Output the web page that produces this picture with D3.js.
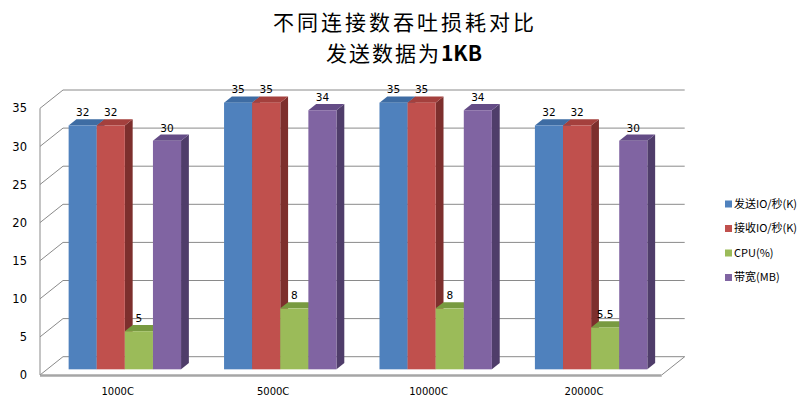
<!DOCTYPE html>
<html>
<head>
<meta charset="utf-8">
<script src="https://cdn.jsdelivr.net/npm/d3@7"></script>
<style>
  body { margin: 0; background: #fff; }
  svg { display: block; }
</style>
</head>
<body>
<div id="chart"></div>
<script>
// chart values
const categories = ["1000C", "5000C", "10000C", "20000C"];
const seriesNames = ["发送IO/秒(K)", "接收IO/秒(K)", "CPU(%)", "带宽(MB)"];
const sendIO = [32, 35, 35, 32];
const recvIO = [32, 35, 35, 32];
const cpuUsage = [5, 8, 8, 5.5];
const bandwidth = [30, 34, 34, 30];
const yTicks = [0, 5, 10, 15, 20, 25, 30, 35];

const seriesValues = [sendIO, recvIO, cpuUsage, bandwidth];
const colors = [
  { front: "#4f81bd", top: "#3e6ca3", side: "#2f527e" },
  { front: "#c0504d", top: "#a4403d", side: "#7d2f2d" },
  { front: "#9bbb59", top: "#789a40", side: "#5f7a32" },
  { front: "#8064a2", top: "#644c86", side: "#4f3d6a" }
];

const width = 809, height = 404;
// front plane of the floor and depth of the box
const plotLeft = 40, plotRight = 661.7, plotBottom = 375, plotTop = 108.3;
const depthX = 23, depthY = -18.3;
const barStart = 0.31, barDepth = 0.34;

const svg = d3.select("#chart").append("svg")
  .attr("width", width)
  .attr("height", height);

const y = d3.scaleLinear().domain([0, 35]).range([plotBottom, plotTop]);
const x0 = d3.scaleBand().domain(categories).range([plotLeft, plotRight]).padding(0);
const x1 = d3.scaleBand().domain(seriesNames).range([0, x0.bandwidth()])
  .paddingInner(0).paddingOuter(0.765);

// back wall gridlines + left wall diagonals
const grid = svg.append("g").attr("stroke", "#8a8a8a").attr("stroke-width", 1).attr("fill", "none");
yTicks.forEach(t => {
  if (t === 0) return;
  grid.append("path")
    .attr("d", "M" + plotLeft + "," + y(t) + "L" + (plotLeft + depthX) + "," + (y(t) + depthY) +
      "L" + (plotRight + depthX) + "," + (y(t) + depthY));
});
// floor
svg.append("path")
  .attr("d", "M" + plotLeft + "," + plotBottom + "L" + (plotLeft + depthX) + "," + (plotBottom + depthY) +
    "L" + (plotRight + depthX) + "," + (plotBottom + depthY) + "L" + plotRight + "," + plotBottom)
  .attr("fill", "none").attr("stroke", "#8a8a8a");
svg.append("line")
  .attr("x1", plotLeft).attr("x2", plotRight).attr("y1", plotBottom + 0.5).attr("y2", plotBottom + 0.5)
  .attr("stroke", "#a6a6a6").attr("stroke-width", 2.5);
// front vertical axis line
svg.append("line")
  .attr("x1", plotLeft).attr("x2", plotLeft).attr("y1", plotBottom).attr("y2", plotTop)
  .attr("stroke", "#8a8a8a");

// bars
const bx = depthX * barStart, by = depthY * barStart;
const dx = depthX * barDepth, dy = depthY * barDepth;
const bw = x1.bandwidth();

categories.forEach((cat, ci) => {
  const g = svg.append("g");
  seriesNames.forEach((s, si) => {
    const v = seriesValues[si][ci];
    const xl = x0(cat) + x1(s) + bx;
    const xr = xl + bw;
    const yb = y(0) + by;
    const yt = y(v) + by;
    const c = colors[si];
    // side
    g.append("path")
      .attr("d", `M${xr},${yt}L${xr + dx},${yt + dy}L${xr + dx},${yb + dy}L${xr},${yb}Z`)
      .attr("fill", c.side);
    // top
    g.append("path")
      .attr("d", `M${xl},${yt}L${xl + dx},${yt + dy}L${xr + dx},${yt + dy}L${xr},${yt}Z`)
      .attr("fill", c.top);
    // front
    g.append("rect")
      .attr("x", xl).attr("y", yt)
      .attr("width", bw).attr("height", yb - yt)
      .attr("fill", c.front);
  });
  // value labels
  seriesNames.forEach((s, si) => {
    const v = seriesValues[si][ci];
    const xl = x0(cat) + x1(s) + bx;
    g.append("text")
      .attr("x", xl + bw / 2)
      .attr("y", y(v) + by + dy - 3)
      .attr("text-anchor", "middle")
      .attr("font-family", "DejaVu Sans, Verdana, sans-serif")
      .attr("font-size", 10.5)
      .attr("fill", "#000")
      .text(v);
  });
});

// axes (labels only)
const yAxis = svg.append("g")
  .attr("transform", "translate(" + plotLeft + ",0)")
  .call(d3.axisLeft(y).tickValues(yTicks).tickSize(0).tickPadding(13));
yAxis.select(".domain").remove();
yAxis.selectAll("text")
  .attr("font-family", "DejaVu Sans, Verdana, sans-serif")
  .attr("font-size", 11.5).attr("fill", "#000");

const xAxis = svg.append("g")
  .attr("transform", "translate(0," + plotBottom + ")")
  .call(d3.axisBottom(x0).tickSize(0).tickPadding(13));
xAxis.select(".domain").remove();
xAxis.selectAll("text")
  .attr("font-family", "DejaVu Sans, Verdana, sans-serif")
  .attr("font-size", 10).attr("fill", "#000");

// title
const title = svg.append("g")
  .attr("text-anchor", "middle")
  .attr("font-family", "Noto Sans CJK SC, sans-serif")
  .attr("font-size", 21)
  .attr("fill", "#000");
title.append("text").attr("x", 405).attr("y", 29.5)
  .attr("letter-spacing", 3)
  .text("不同连接数吞吐损耗对比");
const line2 = title.append("text").attr("x", 404).attr("y", 61).attr("letter-spacing", 2);
line2.append("tspan").text("发送数据为");
line2.append("tspan").attr("font-weight", "bold").attr("letter-spacing", 0).text("1KB");

// legend
const legend = svg.append("g");
const legendY = [204, 228.5, 253, 277.5];
seriesNames.forEach((s, i) => {
  legend.append("rect")
    .attr("x", 725).attr("y", legendY[i] - 3.5)
    .attr("width", 7).attr("height", 7)
    .attr("fill", colors[i].front);
  legend.append("text")
    .attr("x", 734).attr("y", legendY[i])
    .attr("dy", "0.36em")
    .attr("font-family", "Noto Sans CJK SC, sans-serif")
    .attr("font-size", 11)
    .attr("fill", "#000")
    .text(s);
});
</script>
</body>
</html>
